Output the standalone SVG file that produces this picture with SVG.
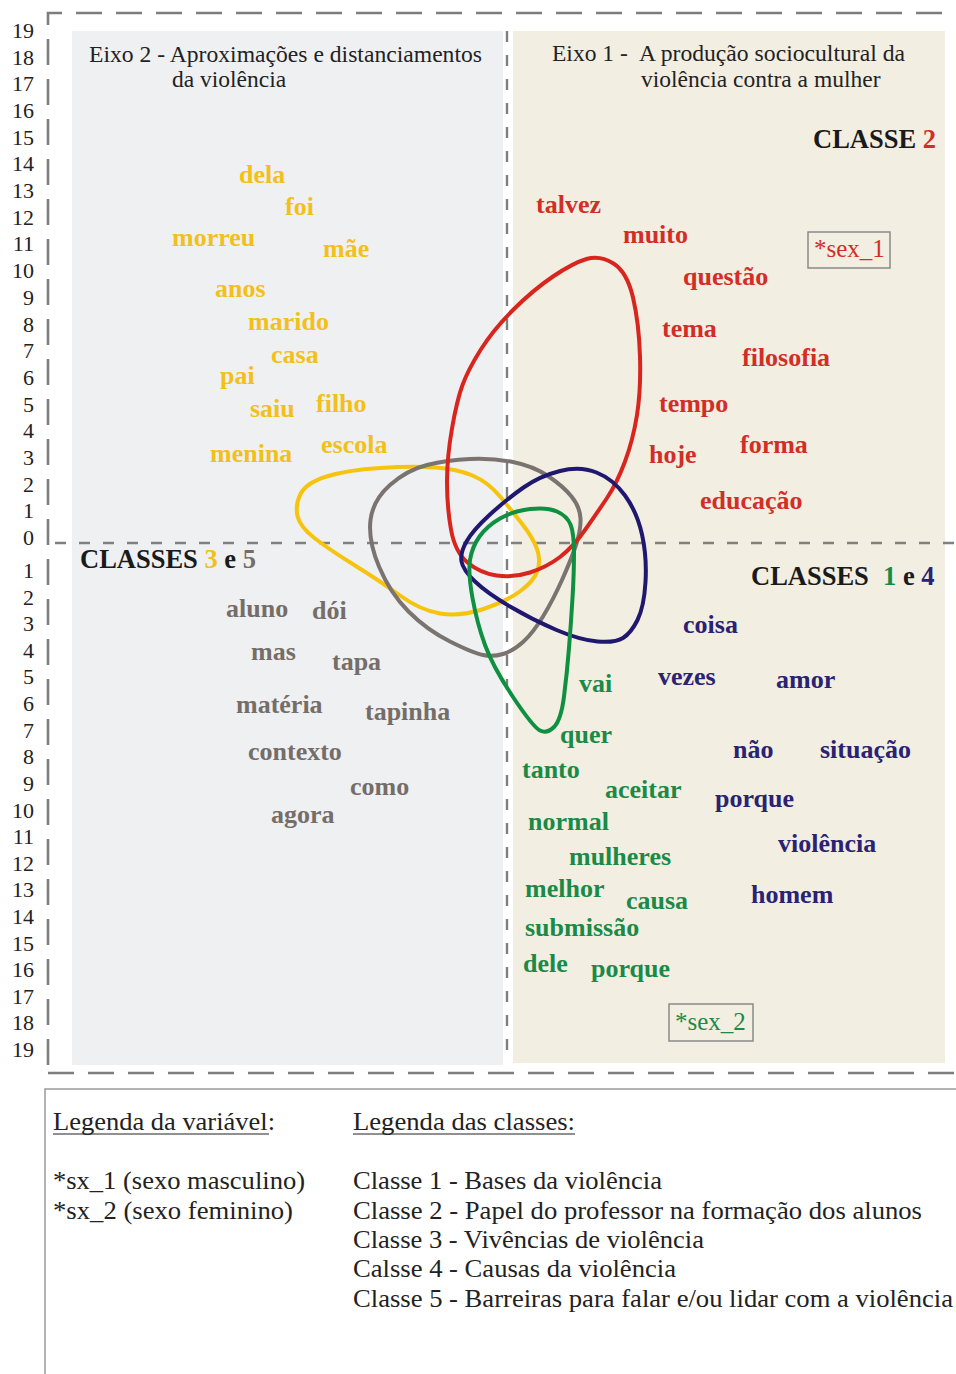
<svg xmlns="http://www.w3.org/2000/svg" width="956" height="1374" viewBox="0 0 956 1374">
<style>
.num{font-family:"Liberation Serif","Times New Roman",serif;font-size:22px;fill:#222;text-anchor:end}
.hd{font-family:"Liberation Serif","Times New Roman",serif;font-size:23.5px;fill:#222}
.w{font-family:"Liberation Serif","Times New Roman",serif;font-size:26px;font-weight:bold}
.cl{font-family:"Liberation Serif","Times New Roman",serif;font-size:26.5px;font-weight:bold;fill:#1a1a1a}
.y{fill:#f3c01b}.r{fill:#d42d27}.g{fill:#756d68}.n{fill:#2a2272}.gr{fill:#1b8a47}
.sx{font-family:"Liberation Serif","Times New Roman",serif;font-size:25px}
.lg{font-family:"Liberation Serif","Times New Roman",serif;font-size:25px;fill:#222}
.frame{fill:none;stroke:#7d7d7d;stroke-width:2.6;stroke-dasharray:26 14}
.mid{fill:none;stroke:#808080;stroke-width:2.4;stroke-dasharray:11 13}
.loop{fill:none;stroke-width:4;stroke-linejoin:round}
</style>
<rect x="0" y="0" width="956" height="1374" fill="#ffffff"/>
<g id="panels">
<rect x="72" y="31" width="431" height="1034" fill="#eff0f2"/>
<rect x="513" y="31" width="432" height="1032" fill="#f2eee2"/>
</g>
<g id="axes">
<path class="frame" d="M48,1065 V13 H960"/>
<path class="frame" d="M48,1073 H960"/>
<path class="mid" d="M55,543 H956"/>
<path class="mid" d="M507,31 V1055"/>
</g>
<g id="axis-labels">
<text class="num" x="34" y="38">19</text>
<text class="num" x="34" y="64.7">18</text>
<text class="num" x="34" y="91.4">17</text>
<text class="num" x="34" y="118">16</text>
<text class="num" x="34" y="144.7">15</text>
<text class="num" x="34" y="171.4">14</text>
<text class="num" x="34" y="198.1">13</text>
<text class="num" x="34" y="224.8">12</text>
<text class="num" x="34" y="251.4">11</text>
<text class="num" x="34" y="278.1">10</text>
<text class="num" x="34" y="304.8">9</text>
<text class="num" x="34" y="331.5">8</text>
<text class="num" x="34" y="358.2">7</text>
<text class="num" x="34" y="384.8">6</text>
<text class="num" x="34" y="411.5">5</text>
<text class="num" x="34" y="438.2">4</text>
<text class="num" x="34" y="464.9">3</text>
<text class="num" x="34" y="491.6">2</text>
<text class="num" x="34" y="518.2">1</text>
<text class="num" x="34" y="544.9">0</text>
<text class="num" x="34" y="578">1</text>
<text class="num" x="34" y="604.6">2</text>
<text class="num" x="34" y="631.2">3</text>
<text class="num" x="34" y="657.8">4</text>
<text class="num" x="34" y="684.4">5</text>
<text class="num" x="34" y="711.1">6</text>
<text class="num" x="34" y="737.7">7</text>
<text class="num" x="34" y="764.3">8</text>
<text class="num" x="34" y="790.9">9</text>
<text class="num" x="34" y="817.5">10</text>
<text class="num" x="34" y="844.1">11</text>
<text class="num" x="34" y="870.7">12</text>
<text class="num" x="34" y="897.3">13</text>
<text class="num" x="34" y="924">14</text>
<text class="num" x="34" y="950.5">15</text>
<text class="num" x="34" y="977.2">16</text>
<text class="num" x="34" y="1003.8">17</text>
<text class="num" x="34" y="1030.4">18</text>
<text class="num" x="34" y="1057">19</text>
</g>
<g id="eixo2">
<text class="hd" x="89" y="62" textLength="393" lengthAdjust="spacingAndGlyphs">Eixo 2 - Aproximações e distanciamentos</text>
<text class="hd" x="172" y="87">da violência</text>
</g>
<g id="eixo1">
<text class="hd" x="552" y="61">Eixo 1 -</text>
<text class="hd" x="639" y="61" textLength="266" lengthAdjust="spacingAndGlyphs">A produção sociocultural da</text>
<text class="hd" x="641" y="87">violência contra a mulher</text>
</g>
<g id="classe-2-title"><text class="cl" x="813" y="148">CLASSE <tspan class="r">2</tspan></text></g>
<g id="classes-3-5-title"><text class="cl" x="80" y="568">CLASSES <tspan class="y">3</tspan> e <tspan class="g">5</tspan></text></g>
<g id="classes-1-4-title"><text class="cl" x="751" y="585">CLASSES</text><text class="cl" x="883" y="585"><tspan style="fill:#1b8a47">1</tspan> e <tspan class="n">4</tspan></text></g>
<g id="connectors">
<path id="loop-3" class="loop" stroke="#f6c40e" d="M297.5,516 Q295,505 300.5,494 Q306,483 326.5,476.5 Q347,470 380,468 Q413,466 435,467.5 Q457,469 472.5,475.5 Q488,482 500.5,497 Q513,512 523,525 Q533,538 537,549 Q541,560 537.5,570.5 Q534,581 520.5,591 Q507,601 483.5,609 Q460,617 440,613.5 Q420,610 400,595.5 Q380,581 355,565.5 Q330,550 315,538.5 Q300,527 297.5,516 Z"/>
<path id="loop-5" class="loop" stroke="#7b7370" d="M470,459 Q493,458 513,462 Q533,466 548,476 Q563,486 571.5,496.5 Q580,507 580.5,518.5 Q581,530 576,545 Q571,560 562,580 Q553,600 543,616.5 Q533,633 523,642 Q513,651 503,654 Q493,657 483,655 Q473,653 450,641.5 Q427,630 408.5,611.5 Q390,593 379,566.5 Q368,540 370.5,520 Q373,500 390,485 Q407,470 427,465 Q447,460 470,459 Z"/>
<path id="loop-2" class="loop" stroke="#d8261f" d="M586.5,259 Q600,255 613.5,263.5 Q627,272 633,297.5 Q639,323 640,356.5 Q641,390 637,415 Q633,440 625,461.5 Q617,483 607,498 Q597,513 585,530 Q573,547 560,557 Q547,567 530,572.5 Q513,578 496.5,575.5 Q480,573 467.5,562.5 Q455,552 451,529.5 Q447,507 447,482 Q447,457 452,428.5 Q457,400 462.5,385 Q468,370 480.5,350 Q493,330 513,310 Q533,290 553,276.5 Q573,263 586.5,259 Z"/>
<path id="loop-4" class="loop" stroke="#20186f" d="M560,471 Q580,466 596.5,472.5 Q613,479 625,495.5 Q637,512 642,534.5 Q647,557 645.5,582 Q644,607 637.5,620 Q631,633 623,638 Q615,643 597.5,641.5 Q580,640 556.5,630 Q533,620 510,606.5 Q487,593 475,581.5 Q463,570 461.5,561.5 Q460,553 466.5,541.5 Q473,530 490,514.5 Q507,499 523.5,487.5 Q540,476 560,471 Z"/>
<path id="loop-1" class="loop" stroke="#0f9040" d="M530,509 Q547,507 557,511.5 Q567,516 570.5,524.5 Q574,533 574,553 Q574,573 572.5,598 Q571,623 569,648 Q567,673 564,696.5 Q561,720 554,727 Q547,734 540,730.5 Q533,727 513,697 Q493,667 485,645 Q477,623 472.5,598 Q468,573 470,560 Q472,547 479.5,536.5 Q487,526 500,518.5 Q513,511 530,509 Z"/>
</g>
<g id="words-classe-3">
<text class="w y" x="239" y="183">dela</text>
<text class="w y" x="285" y="215">foi</text>
<text class="w y" x="172" y="246">morreu</text>
<text class="w y" x="323" y="257">mãe</text>
<text class="w y" x="215" y="297">anos</text>
<text class="w y" x="248" y="330">marido</text>
<text class="w y" x="271" y="363">casa</text>
<text class="w y" x="220" y="384">pai</text>
<text class="w y" x="250" y="417">saiu</text>
<text class="w y" x="316" y="412">filho</text>
<text class="w y" x="210" y="462">menina</text>
<text class="w y" x="321" y="453">escola</text>
</g>
<g id="words-classe-5">
<text class="w g" x="226" y="617">aluno</text>
<text class="w g" x="312" y="619">dói</text>
<text class="w g" x="251" y="660">mas</text>
<text class="w g" x="332" y="670">tapa</text>
<text class="w g" x="236" y="713">matéria</text>
<text class="w g" x="365" y="720">tapinha</text>
<text class="w g" x="248" y="760">contexto</text>
<text class="w g" x="350" y="795">como</text>
<text class="w g" x="271" y="823">agora</text>
</g>
<g id="words-classe-2">
<text class="w r" x="536" y="213">talvez</text>
<text class="w r" x="623" y="243">muito</text>
<text class="w r" x="683" y="285">questão</text>
<text class="w r" x="662" y="337">tema</text>
<text class="w r" x="742" y="366">filosofia</text>
<text class="w r" x="659" y="412">tempo</text>
<text class="w r" x="649" y="463">hoje</text>
<text class="w r" x="740" y="453">forma</text>
<text class="w r" x="700" y="509">educação</text>
</g>
<g id="words-classe-4">
<text class="w n" x="683" y="633">coisa</text>
<text class="w n" x="658" y="685">vezes</text>
<text class="w n" x="776" y="688">amor</text>
<text class="w n" x="733" y="758">não</text>
<text class="w n" x="820" y="758">situação</text>
<text class="w n" x="715" y="807">porque</text>
<text class="w n" x="778" y="852">violência</text>
<text class="w n" x="751" y="903">homem</text>
</g>
<g id="words-classe-1">
<text class="w gr" x="579" y="692">vai</text>
<text class="w gr" x="560" y="743">quer</text>
<text class="w gr" x="522" y="778">tanto</text>
<text class="w gr" x="605" y="798">aceitar</text>
<text class="w gr" x="528" y="830">normal</text>
<text class="w gr" x="569" y="865">mulheres</text>
<text class="w gr" x="525" y="897">melhor</text>
<text class="w gr" x="626" y="909">causa</text>
<text class="w gr" x="525" y="936">submissão</text>
<text class="w gr" x="523" y="972">dele</text>
<text class="w gr" x="591" y="977">porque</text>
</g>
<g id="sex-1">
<rect x="808" y="232" width="82" height="36" fill="none" stroke="#8a8a8a" stroke-width="1.5"/>
<text class="sx r" x="814" y="257">*sex_1</text>
</g>
<g id="sex-2">
<rect x="669" y="1004" width="84" height="37" fill="none" stroke="#8a8a8a" stroke-width="1.5"/>
<text class="sx gr" x="675" y="1030">*sex_2</text>
</g>
<g id="legend">
<path d="M45,1374 V1089 H960" fill="#fff" stroke="#9a9a9a" stroke-width="1.5"/>
<text class="lg" x="53" y="1130" textLength="222" lengthAdjust="spacingAndGlyphs">Legenda da variável:</text>
<line x1="53" y1="1134" x2="269" y2="1134" stroke="#222" stroke-width="1.2"/>
<text class="lg" x="353" y="1130" textLength="222" lengthAdjust="spacingAndGlyphs">Legenda das classes:</text>
<line x1="353" y1="1134" x2="575" y2="1134" stroke="#222" stroke-width="1.2"/>
<text class="lg" x="53" y="1189" textLength="252" lengthAdjust="spacingAndGlyphs">*sx_1 (sexo masculino)</text>
<text class="lg" x="53" y="1219" textLength="240" lengthAdjust="spacingAndGlyphs">*sx_2 (sexo feminino)</text>
<text class="lg" x="353" y="1189" textLength="309" lengthAdjust="spacingAndGlyphs">Classe 1 - Bases da violência</text>
<text class="lg" x="353" y="1219" textLength="569" lengthAdjust="spacingAndGlyphs">Classe 2 - Papel do professor na formação dos alunos</text>
<text class="lg" x="353" y="1248" textLength="351" lengthAdjust="spacingAndGlyphs">Classe 3 - Vivências de violência</text>
<text class="lg" x="353" y="1277" textLength="323" lengthAdjust="spacingAndGlyphs">Calsse 4 - Causas da violência</text>
<text class="lg" x="353" y="1307" textLength="600" lengthAdjust="spacingAndGlyphs">Classe 5 - Barreiras para falar e/ou lidar com a violência</text>
</g>
</svg>
